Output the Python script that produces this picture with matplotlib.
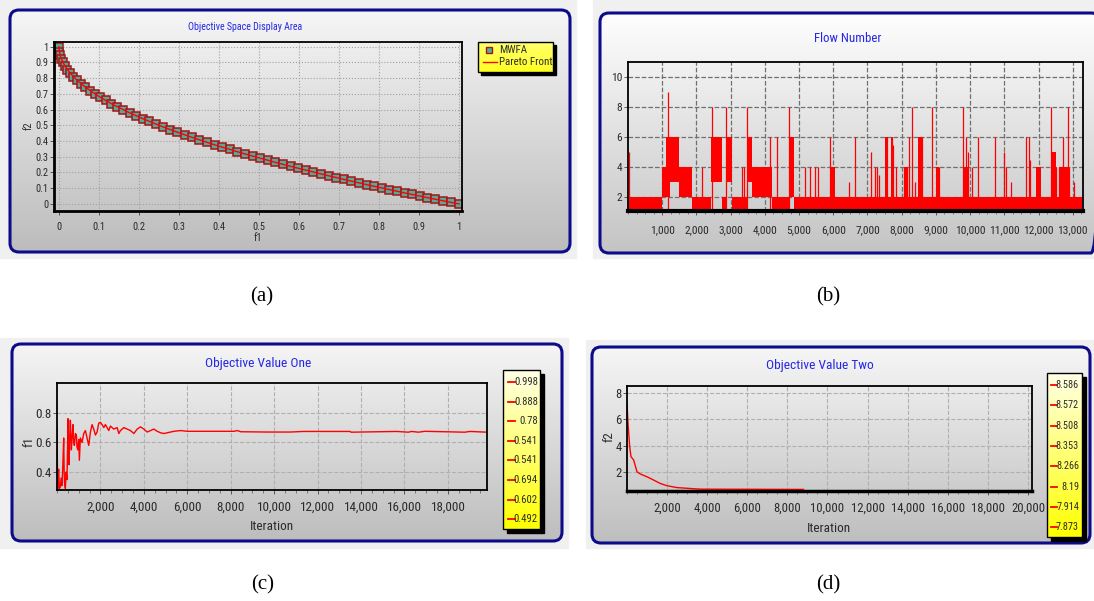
import os
import numpy as np
import matplotlib.pyplot as plt
from matplotlib import font_manager as fm
from matplotlib.patches import FancyBboxPatch, Rectangle
from matplotlib.colors import LinearSegmentedColormap
from matplotlib.ticker import MultipleLocator
from matplotlib.textpath import TextPath
from matplotlib.font_manager import FontProperties

plt.rcParams['font.family'] = ['Liberation Sans', 'DejaVu Sans']

W, H = 1094, 601

# (a) objective space: MWFA solutions and the Pareto front
pareto_f1 = [0.000, 0.001, 0.003, 0.006, 0.010, 0.015, 0.021, 0.028, 0.036, 0.045,
             0.055, 0.066, 0.078, 0.090, 0.103, 0.117, 0.131, 0.146, 0.161, 0.177,
             0.193, 0.209, 0.226, 0.243, 0.260, 0.278, 0.296, 0.314, 0.332, 0.351,
             0.370, 0.389, 0.408, 0.427, 0.446, 0.465, 0.484, 0.503, 0.522, 0.541,
             0.560, 0.579, 0.598, 0.617, 0.636, 0.655, 0.674, 0.693, 0.712, 0.731,
             0.750, 0.769, 0.788, 0.807, 0.826, 0.845, 0.864, 0.883, 0.902, 0.921,
             0.940, 0.960, 0.980, 1.000]
pareto_f2 = [1.000, 0.968, 0.945, 0.923, 0.900, 0.878, 0.855, 0.833, 0.810, 0.788,
             0.765, 0.743, 0.721, 0.700, 0.679, 0.658, 0.638, 0.618, 0.599, 0.579,
             0.561, 0.543, 0.525, 0.507, 0.490, 0.473, 0.456, 0.440, 0.424, 0.408,
             0.392, 0.376, 0.361, 0.347, 0.332, 0.318, 0.304, 0.291, 0.278, 0.264,
             0.252, 0.239, 0.227, 0.215, 0.203, 0.191, 0.179, 0.168, 0.156, 0.145,
             0.134, 0.123, 0.112, 0.102, 0.091, 0.081, 0.070, 0.060, 0.050, 0.040,
             0.030, 0.020, 0.010, 0.000]

# (b) flow number: filled bands (start, end, low, high) and single spikes
band_start = [0, 1000, 1100, 1220, 1490, 1860, 2440, 2740, 2850, 3050, 3470, 3620,
              4200, 4700, 4840, 5900, 6040, 7520, 7700, 8060, 8480, 9000, 9780,
              11930, 12370, 12600]
band_end = [1000, 1100, 1220, 1490, 1860, 2440, 2740, 2850, 3050, 3470, 3620, 4200,
            4700, 4840, 5900, 6040, 13274, 7600, 7760, 8170, 8620, 9100, 9970,
            12070, 12510, 12900]
band_low = [1, 2, 2, 3, 2, 1, 3, 1, 3, 1, 3, 2, 1, 2, 1, 1, 1, 2, 2, 2, 2, 2, 2, 2, 2, 2]
band_high = [2, 4, 6, 6, 4, 2, 6, 2, 6, 2, 6, 4, 2, 6, 2, 4, 2, 6, 6, 4, 6, 4, 4, 4, 5, 4]
spike_x = [20, 1173, 2150, 2463, 2864, 3323, 3382, 3470, 4154, 4350, 4692, 5181,
           5327, 5474, 5552, 5914, 6452, 6647, 7116, 7214, 7282, 7331, 7527, 7576,
           7703, 7742, 7820, 8064, 8162, 8211, 8309, 8387, 8504, 8553, 8602, 8895,
           9042, 9091, 9795, 9873, 9951, 10069, 10245, 10733, 10997, 11046, 11193,
           11632, 11730, 11750, 12365, 12414, 12512, 12609, 12658, 12707, 12756,
           12854, 12903, 13050]
spike_top = [5, 9, 4, 8, 8, 4, 4, 8, 6, 6, 8, 4, 4, 4, 4, 6, 3, 6, 5, 4, 4, 3.5,
             6, 6, 6, 5.5, 4, 4, 4, 6, 8, 3, 6, 6, 6, 8, 4, 4, 8, 6, 5, 4, 6, 6,
             5, 4, 3, 6, 6, 4.5, 8, 5, 4, 4, 4, 6, 4, 8, 4, 3]

# (c) objective value one per iteration
f1_iter = [0, 31, 50, 77, 110, 154, 190, 231, 270, 308, 330, 350, 385, 420, 461,
           508, 530, 554, 590, 615, 661, 700, 738, 770, 800, 850, 892, 920, 954,
           1000, 1030, 1077, 1154, 1230, 1307, 1384, 1461, 1538, 1615, 1692, 1769,
           1846, 1923, 2000, 2077, 2154, 2230, 2307, 2384, 2461, 2615, 2769, 2846,
           2922, 3076, 3230, 3384, 3538, 3692, 3845, 3999, 4153, 4307, 4461, 4614,
           4768, 4922, 5076, 5230, 5383, 5691, 5998, 6614, 8152, 8306, 8460, 9690,
           10736, 11349, 13494, 13540, 15640, 16176, 16329, 16636, 16942, 18781,
           19011, 19808]
f1_value = [0.70, 0.29, 0.38, 0.42, 0.29, 0.30, 0.36, 0.31, 0.45, 0.63, 0.40, 0.33,
            0.29, 0.40, 0.35, 0.76, 0.52, 0.45, 0.66, 0.75, 0.55, 0.64, 0.72, 0.60,
            0.58, 0.66, 0.65, 0.57, 0.55, 0.62, 0.48, 0.63, 0.60, 0.66, 0.68, 0.63,
            0.58, 0.67, 0.72, 0.69, 0.65, 0.67, 0.73, 0.735, 0.72, 0.70, 0.72, 0.70,
            0.68, 0.71, 0.69, 0.70, 0.66, 0.68, 0.70, 0.69, 0.68, 0.66, 0.69, 0.705,
            0.69, 0.67, 0.68, 0.69, 0.675, 0.665, 0.66, 0.665, 0.67, 0.675, 0.68,
            0.675, 0.675, 0.675, 0.68, 0.672, 0.67, 0.670, 0.674, 0.674, 0.669, 0.674,
            0.669, 0.674, 0.669, 0.675, 0.669, 0.674, 0.669]

# (d) objective value two per iteration
f2_iter = [0, 50, 133, 199, 332, 498, 664, 996, 1328, 1660, 1992, 2490, 3154, 3652, 8800]
f2_value = [7.24, 5.7, 3.93, 3.17, 2.91, 2.02, 1.85, 1.64, 1.39, 1.13, 0.96, 0.82,
            0.75, 0.70, 0.68]

legend_c = ['0.998', '0.888', '0.78', '0.541', '0.541', '0.694', '0.602', '0.492']
legend_d = ['8.586', '8.572', '8.508', '8.353', '8.266', '8.19', '7.914', '7.873']

TITLE_BLUE = '#2626e6'
FRAME_BLUE = '#0c0c8a'
INK = '#2a2a2a'


def pick_narrow_font():
    # a narrow sans face if one is installed, else plain Liberation Sans
    files = sorted({f.fname for f in fm.fontManager.ttflist})
    names = [os.path.basename(f).lower() for f in files]
    prefs = ['liberationsansnarrow-regular', 'robotocondensed-regular',
             'notosans-condensed.', 'notosans-condensedregular',
             'opensans-condensedregular', 'opensans_condensed-regular',
             'notosans-semicondensed.', 'dejavusanscondensed.',
             'liberationsans-regular']
    for p in prefs:
        for f, n in zip(files, names):
            if n.startswith(p):
                return f
    return None


NARROW_FILE = pick_narrow_font()


def fp(size):
    if NARROW_FILE:
        return FontProperties(fname=NARROW_FILE, size=size)
    return FontProperties(family='Liberation Sans', size=size)


def fit(sample, width_px, em_px):
    # font size in points: as tall as em_px, but no wider than width_px
    w1 = TextPath((0, 0), sample, size=1, prop=fp(1)).get_extents().width
    size_w = width_px / (w1 * 100 / 72)
    return min(em_px * 0.72, size_w)


def px_axes(fig, x0, y0, x1, y1):
    return fig.add_axes([x0 / W, 1 - y1 / H, (x1 - x0) / W, (y1 - y0) / H])


def label(x, y, s, size, ha='center', color=INK, rot=0):
    bg.text(x, y, s, fontproperties=fp(size), ha=ha, va='center', color=color,
            rotation=rot, zorder=8)


def gradient(x0, y0, x1, y1, top, bottom, clip=None, z=1):
    cmap = LinearSegmentedColormap.from_list('g', [top, bottom])
    im = bg.imshow(np.linspace(0, 1, 256).reshape(-1, 1), cmap=cmap,
                   extent=(x0, x1, y1, y0), aspect='auto', zorder=z)
    if clip is not None:
        im.set_clip_path(clip)


def frame(x0, y0, x1, y1, top, bottom):
    box = FancyBboxPatch((x0, y0), x1 - x0, y1 - y0,
                         boxstyle='round,pad=0,rounding_size=9',
                         facecolor='none', edgecolor=FRAME_BLUE, lw=2.2, zorder=3)
    bg.add_patch(box)
    gradient(x0, y0, x1, y1, top, bottom, clip=box, z=2)


def value_box(x0, y0, x1, y1, labels, y_first, step, dash_x, text_x, size):
    bg.add_patch(Rectangle((x0 + 4, y0 + 4), x1 - x0, y1 - y0, color='black', zorder=4))
    gradient(x0, y0, x1, y1, '#ffffe6', '#ffff00', z=5)
    bg.add_patch(Rectangle((x0, y0), x1 - x0, y1 - y0, facecolor='none',
                           edgecolor='black', lw=1, zorder=6))
    for i, lab in enumerate(labels):
        y = y_first + i * step
        bg.plot(dash_x, [y, y], color='red', lw=1.3, zorder=7)
        label(text_x, y, lab, size, ha='right')


def style_axes(ax, xticks, yticks, fmt, size, xpad, ypad):
    ax.set_facecolor('none')
    for s in ax.spines.values():
        s.set_color('black')
        s.set_linewidth(1.3)
    ax.set_xticks(xticks)
    ax.set_yticks(yticks)
    ax.set_xticklabels([fmt(v) for v in xticks], fontproperties=fp(size))
    ax.set_yticklabels([fmt(v) for v in yticks], fontproperties=fp(size))
    ax.tick_params(length=3, width=0.6, colors='#444444', labelcolor=INK)
    ax.tick_params(axis='x', pad=xpad)
    ax.tick_params(axis='y', pad=ypad)
    ax.tick_params(axis='x', which='minor', length=2, width=0.5, colors='#555555')
    ax.tick_params(axis='y', which='minor', length=0)
    ax.set_axisbelow(True)


def short(v):
    return '0' if v == 0 else f"{v:.1f}".rstrip('0').rstrip('.')


def thousands(v):
    return f"{int(round(v)):,}" if v > 1.5 else short(v)


fig = plt.figure(figsize=(W / 100, H / 100), dpi=100)
fig.patch.set_facecolor('white')

bg = fig.add_axes([0, 0, 1, 1])
bg.set_zorder(0)
bg.axis('off')
bg.set_xlim(0, W)
bg.set_ylim(H, 0)

# light screenshot margins round each panel
for x0, y0, x1, y1 in [(0, 0, 576, 258), (593, 0, 1094, 258),
                       (0, 338, 568, 548), (586, 340, 1094, 548)]:
    bg.add_patch(Rectangle((x0, y0), x1 - x0, y1 - y0, color='#f0f0f0', zorder=0))

frame(10, 10, 570, 252, '#f6f6f6', '#bcbcbc')
frame(600, 13, 1100, 253, '#fefefe', '#c4c4c4')
frame(12, 344, 562, 541, '#f5f5f5', '#bdbdbd')
frame(592, 347, 1090, 543, '#f6f6f6', '#bebebe')

# titles and axis labels
label(245, 27, 'Objective Space Display Area', fit('Objective Space Display Area', 125, 10), color=TITLE_BLUE)
label(848, 38, 'Flow Number', fit('Flow Number', 66, 16.5), color=TITLE_BLUE)
title_size = fit('Objective Value One', 105, 15)
label(258, 364, 'Objective Value One', title_size, color=TITLE_BLUE)
label(820, 366, 'Objective Value Two', title_size, color=TITLE_BLUE)
label(29, 126, 'f2', 7.5, rot=90)
label(258, 238, 'f1', 7.5)
iter_size = fit('Iteration', 42, 15)
label(29, 442, 'f1', 9.5, rot=90)
label(272, 527, 'Iteration', iter_size)
label(609, 437, 'f2', 9.5, rot=90)
label(829, 528, 'Iteration', iter_size)

# legend of panel (a)
bg.add_patch(Rectangle((481, 45), 75, 30, color='black', zorder=4))
gradient(478, 42, 553, 72, '#ffff70', '#ffff20', z=5)
bg.add_patch(Rectangle((478, 42), 75, 30, facecolor='none', edgecolor='black', lw=1, zorder=6))
bg.plot([489], [50], marker='s', ms=5, mfc='#5aa89c', mec='#a01818', mew=1, zorder=7)
bg.plot([483, 497], [62, 62], color='red', lw=1, zorder=7)
leg_size = fit('Pareto Front', 52, 11)
label(499, 50, 'MWFA', leg_size, ha='left')
label(499, 62, 'Pareto Front', leg_size, ha='left')

value_box(503, 370, 540, 529, legend_c, 382, 19.6, [508, 515], 538, fit('0.998', 23, 14))
value_box(1047, 373, 1082, 537, legend_d, 385, 20.3, [1051, 1057], 1079, fit('8.586', 22, 12.6))

# captions under the panels
for x, y, s in [(262, 297, '(a)'), (828, 297, '(b)'), (263, 585, '(c)'), (828, 585, '(d)')]:
    bg.text(x, y, s, fontsize=15, family=['Liberation Serif', 'DejaVu Serif'],
            ha='center', va='center', zorder=8)

# (a)
ax = px_axes(fig, 54, 42, 462, 211)
ticks01 = np.round(np.arange(0, 1.01, 0.1), 1)
style_axes(ax, ticks01, ticks01, short, fit('0.5', 12, 11), 5, 1)
ax.plot(pareto_f1, pareto_f2, ls='none', marker='s', ms=6, mfc='#5aa89c',
        mec='#a01818', mew=1.1)
ax.plot(pareto_f1, pareto_f2, color='red', lw=1)
ax.set_xlim(-0.0125, 1.0075)
ax.set_ylim(-0.045, 1.03)
ax.grid(True, ls=':', color='#a0a0a0', lw=0.8)
ax.spines['left'].set_linewidth(2)
ax.spines['bottom'].set_linewidth(2)

# (b)
ax = px_axes(fig, 628, 62, 1083, 211)
style_axes(ax, np.arange(1000, 13001, 1000), [2, 4, 6, 8, 10], thousands,
           fit('13,000', 29, 17), 7, 1)
ax.bar(band_start, np.subtract(band_high, band_low), width=np.subtract(band_end, band_start),
       bottom=band_low, align='edge', color='#ff0000', lw=0)
ax.vlines(spike_x, 1, spike_top, color='#ff0000', lw=0.9)
ax.set_xlim(0, 13300)
ax.set_ylim(1.07, 11)
ax.xaxis.set_minor_locator(MultipleLocator(250))
ax.grid(True, ls='--', color='#707070', lw=0.9)
ax.spines['bottom'].set_linewidth(3)

# (c)
ax = px_axes(fig, 57, 383, 487, 490)
style_axes(ax, np.arange(2000, 18001, 2000), [0.4, 0.6, 0.8], thousands,
           fit('2,000', 27, 14), 5, 1)
ax.plot(f1_iter, f1_value, color='#ff0000', lw=1)
ax.set_xlim(0, 19800)
ax.set_ylim(0.28, 1.0)
ax.xaxis.set_minor_locator(MultipleLocator(500))
ax.grid(True, ls='--', color='#b0b0b0', lw=0.8)

# (d)
ax = px_axes(fig, 627, 386, 1032, 491)
style_axes(ax, np.arange(2000, 20001, 2000), [2, 4, 6, 8], thousands,
           fit('2,000', 26, 15), 5, 1)
ax.plot(f2_iter, f2_value, color='#ff0000', lw=1)
ax.set_xlim(0, 20200)
ax.set_ylim(0.56, 8.53)
ax.xaxis.set_minor_locator(MultipleLocator(500))
ax.grid(True, ls='--', color='#b0b0b0', lw=0.8)
ax.spines['bottom'].set_linewidth(2.5)

bg.set_xlim(0, W)
bg.set_ylim(H, 0)

fig.savefig('out.png', dpi=100)
